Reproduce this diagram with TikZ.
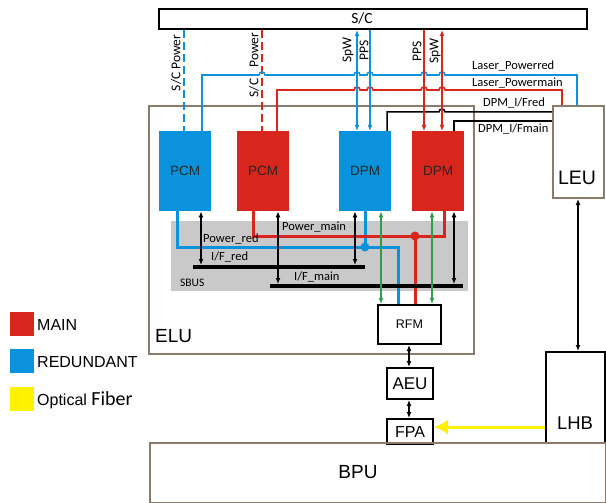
\documentclass[tikz,border=0pt]{standalone}
\usepackage{fontspec}
\setmainfont{Liberation Sans}
\newfontfamily\calfont{Carlito}
\usetikzlibrary{arrows.meta}
\definecolor{mred}{HTML}{D9261C}
\definecolor{mblue}{HTML}{0A93DC}
\definecolor{brn}{HTML}{8C7B6A}
\definecolor{mgreen}{HTML}{2E9E48}
\definecolor{fib}{HTML}{FFF200}
\begin{document}
\begin{tikzpicture}[x=1pt,y=-1pt,
  box/.style={draw=black, line width=2pt, inner sep=0pt, anchor=north west},
  bbox/.style={draw=brn, line width=2pt, inner sep=0pt, anchor=north west},
  unit/.style={anchor=north west, inner sep=0pt, minimum width=52pt, minimum height=80pt,
     font=\fontsize{13.5}{14}\selectfont, text=black!85},
  lbl/.style={font=\calfont\fontsize{12.5}{13}\selectfont, inner sep=0pt, anchor=west},
  rlbl/.style={font=\calfont\fontsize{13.5}{14}\selectfont, inner sep=0pt, rotate=90},
  tip/.style={{Latex[length=6pt,width=5pt]}-{Latex[length=6pt,width=5pt]}},
  endtip/.style={-{Latex[length=6pt,width=5pt]}},
  barr/.style={line width=1.3pt, tip},
  bline/.style={draw=mblue, line width=1.8pt},
  rline/.style={draw=mred, line width=1.8pt},
  kline/.style={draw=black, line width=1.5pt},
  legsq/.style={anchor=north west, inner sep=0pt, minimum size=24pt},
  legtxt/.style={anchor=west, inner sep=0pt, font=\fontsize{16}{17}\selectfont}
]
\useasboundingbox (0,0) rectangle (606,503);
\fill[white] (0,0) rectangle (606,503);

% x positions
\coordinate (xdb) at (184,0);
\coordinate (xlb) at (202,0);
\coordinate (xdr) at (262,0);
\coordinate (xlr) at (277,0);
\coordinate (xs1) at (357,0);
\coordinate (xp1) at (370,0);
\coordinate (xp2) at (424,0);
\coordinate (xs2) at (442,0);
\coordinate (xbl) at (577,0);
\coordinate (xrl) at (562,0);
\coordinate (xfr) at (387,0);
\coordinate (xfm) at (454,0);
\coordinate (xlh) at (578,0);
\coordinate (xa) at (409,0);

% containers
\node[bbox, minimum width=325pt, minimum height=248pt] (elu) at (148,105) {};
\node[anchor=west, inner sep=0pt, font=\fontsize{19}{20}\selectfont] (elut) at (155,336) {ELU};
\node[fill=gray!42, anchor=north west, inner sep=0pt, minimum width=297pt, minimum height=70pt] (sbus) at (171,221) {};
\node[lbl, font=\calfont\fontsize{11.5}{12}\selectfont] (sbust) at (180,283) {SBUS};

% S/C
\node[box, minimum width=428pt, minimum height=20pt] (sc) at (158,8) {};
\node[inner sep=0pt, font=\calfont\fontsize{15.5}{16}\selectfont] (sct) at (362,18) {S/C};

% units
\node[unit, fill=mblue] (pcmb) at (159,131) {PCM};
\node[unit, fill=mred] (pcmr) at (237,131) {PCM};
\node[unit, fill=mblue] (dpmb) at (339,131) {DPM};
\node[unit, fill=mred] (dpmr) at (412,131) {DPM};

% LEU
\node[bbox, minimum width=51pt, minimum height=92pt] (leu) at (552,105) {};
\node[inner sep=0pt, font=\fontsize{19.5}{20}\selectfont] (leut) at (577,178) {LEU};

% S/C power dashed
\draw[draw=mblue, line width=2.5pt, dash pattern=on 8pt off 4pt] (xdb |- sc.south) -- (xdb |- pcmb.north);
\draw[draw=mred, line width=2.5pt, dash pattern=on 8pt off 4pt] (xdr |- sc.south) -- (xdr |- pcmr.north);
\node[rlbl] (scp1) at (176,63) {S/C Power};
\node[rlbl] (scp2) at (254,50) {Power};
\node[rlbl] (scp3) at (254,88) {S/C};

% laser lines with hops
\draw[bline, line width=1.6pt] (xlb |- pcmb.north) -- (202,75) -- (259,75) .. controls (259,71) and (265,71) .. (265,75)
  -- (354,75) .. controls (354,71) and (360,71) .. (360,75)
  -- (367,75) .. controls (367,71) and (373,71) .. (373,75)
  -- (421,75) .. controls (421,71) and (427,71) .. (427,75)
  -- (439,75) .. controls (439,71) and (445,71) .. (445,75)
  -- (577,75) -- (xbl |- leu.north);
\draw[rline, line width=1.6pt] (xlr |- pcmr.north) -- (277,90)
  -- (354,90) .. controls (354,86) and (360,86) .. (360,90)
  -- (367,90) .. controls (367,86) and (373,86) .. (373,90)
  -- (421,90) .. controls (421,86) and (427,86) .. (427,90)
  -- (439,90) .. controls (439,86) and (445,86) .. (445,90)
  -- (562,90) -- (xrl |- leu.north);
\node[lbl] (lpr) at (472,66) {Laser\_Powerred};
\node[lbl] (lpm) at (472,83) {Laser\_Powermain};

% DPM I/F lines
\draw[kline] (xfr |- dpmb.north) -- (387,112) -- (439,112) .. controls (439,108) and (445,108) .. (445,112) -- (leu.west |- 0,112);
\draw[kline] (xfm |- dpmr.north) -- (454,121) -- (leu.west |- 0,121);
\node[lbl] (dfr) at (483,103) {DPM\_I/Fred};
\node[lbl] (dfm) at (478,129) {DPM\_I/Fmain};

% SpW / PPS
\draw[bline, tip] (xs1 |- sc.south) -- (xs1 |- dpmb.north);
\draw[bline, endtip] (xp1 |- sc.south) -- (xp1 |- dpmb.north);
\draw[rline, endtip] (xp2 |- sc.south) -- (xp2 |- dpmr.north);
\draw[rline, tip] (xs2 |- sc.south) -- (xs2 |- dpmr.north);
\node[rlbl] (l1) at (348,50) {SpW};
\node[rlbl] (l2) at (364,50) {PPS};
\node[rlbl] (l3) at (417,51) {PPS};
\node[rlbl] (l4) at (435,51) {SpW};

% RFM, AEU, FPA, LHB
\node[box, minimum width=63pt, minimum height=39pt, font=\fontsize{12.5}{13}\selectfont] (rfm) at (377,304) {RFM};
\node[box, minimum width=46pt, minimum height=31pt, font=\fontsize{17}{18}\selectfont] (aeu) at (386,367) {AEU};
\node[box, minimum width=46pt, minimum height=25pt, font=\fontsize{16}{17}\selectfont] (fpa) at (386,418) {FPA};
\node[box, minimum width=59pt, minimum height=91pt] (lhb) at (545,351) {};
\node[inner sep=0pt, font=\fontsize{18.5}{19}\selectfont] (lhbt) at (575,423) {LHB};

% power lines in SBUS
\draw[draw=mblue, line width=3pt] (pcmb.south -| 177,0) -- (177,247) -- (398,247) -- (rfm.north -| 398,0);
\draw[draw=mblue, line width=3pt] (dpmb.south -| 365,0) -- (365,247);
\fill[mblue] (365,247) circle (4.5pt);
\draw[draw=mred, line width=3pt] (pcmr.south -| 253,0) -- (253,236) -- (444,236) -- (dpmr.south -| 444,0);
\draw[draw=mred, line width=3pt] (415,236) -- (rfm.north -| 415,0);
\fill[mred] (415,236) circle (4.5pt);
\node[lbl] (pwm) at (282,227) {Power\_main};
\node[lbl] (pwr) at (203,239) {Power\_red};

% buses
\draw[line width=4pt] (193,267) coordinate (ifr1) -- (365,267) coordinate (ifr2);
\draw[line width=4pt] (270,286) coordinate (ifm1) -- (463,286) coordinate (ifm2);
\node[lbl] (ifrt) at (211,257) {I/F\_red};
\node[lbl] (ifmt) at (294,277) {I/F\_main};
\draw[barr] (pcmb.south -| 201,0) -- (201,265);
\draw[barr] (dpmb.south -| 355,0) -- (355,265);
\draw[barr] (pcmr.south -| 278,0) -- (278,284);
\draw[barr] (dpmr.south -| 454,0) -- (454,284);

% green
\draw[draw=mgreen, line width=1.5pt, tip] (dpmb.south -| 381,0) -- (rfm.north -| 381,0);
\draw[draw=mgreen, line width=1.5pt, tip] (dpmr.south -| 432,0) -- (rfm.north -| 432,0);

% vertical chain
\draw[barr] (xa |- rfm.south) -- (xa |- aeu.north);
\draw[barr] (xa |- aeu.south) -- (xa |- fpa.north);
\draw[barr] (xlh |- leu.south) -- (xlh |- lhb.north);

% BPU
\node[draw=brn, line width=1.6pt, anchor=north west, inner sep=0pt, minimum width=456pt, minimum height=60pt] (bpu) at (149,442) {};
\node[inner sep=0pt, font=\fontsize{19}{20}\selectfont] (bput) at (358,472) {BPU};

% optical fiber
\draw[draw=fib, line width=3pt, -{Latex[length=14pt,width=15pt]}] (lhb.west |- 0,427) -- (fpa.east |- 0,427);

% legend
\node[legsq, fill=mred] (lg1) at (10,312) {};
\node[legsq, fill=mblue] (lg2) at (10,349) {};
\node[legsq, fill=fib] (lg3) at (10,387) {};
\node[legtxt] (lt1) at (37,325) {MAIN};
\node[legtxt] (lt2) at (37,362) {REDUNDANT};
\node[legtxt, anchor=base west] (lt3) at (37,405) {Optical {\calfont\fontsize{20}{20}\selectfont Fiber}};
\end{tikzpicture}
\end{document}
